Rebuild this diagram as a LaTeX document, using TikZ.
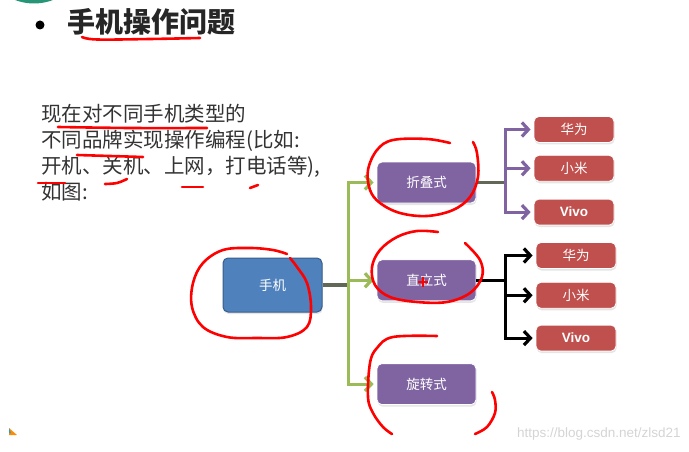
\documentclass[tikz,border=0pt]{standalone}
\usepackage{fontspec}
\setmainfont{Noto Sans CJK SC}
\newfontfamily\wmfont{Liberation Sans}
\usetikzlibrary{positioning,arrows.meta,shadows}
\definecolor{azulCaja}{RGB}{79,129,189}
\definecolor{azulBorde}{RGB}{56,93,138}
\definecolor{moradoCaja}{RGB}{128,100,162}
\definecolor{rojoCaja}{RGB}{192,80,77}
\definecolor{verdeLinea}{RGB}{155,187,89}
\definecolor{tallo}{RGB}{98,104,88}
\definecolor{verdeMar}{RGB}{38,150,118}
\definecolor{marcaAgua}{RGB}{212,212,212}

\begin{document}
\begin{tikzpicture}[x=1pt, y=-1pt, node distance=12pt, thick,
    caja/.style={rounded corners=5pt, inner sep=0pt, text=white, font=\fontsize{13.5}{14}\selectfont,
        drop shadow={shadow xshift=0.6pt, shadow yshift=-2pt, fill=black!20}},
    cajaAzul/.style={caja, fill=azulCaja, draw=azulBorde, line width=1pt, minimum width=99pt, minimum height=54pt},
    cajaMorada/.style={caja, fill=moradoCaja, draw=white, line width=0.8pt, minimum width=99pt, minimum height=41pt},
    cajaRoja/.style={caja, fill=rojoCaja, draw=white, line width=0.8pt, minimum width=80pt, minimum height=26pt},
    flecha/.style={line width=3.2pt, -{Straight Barb[length=6.5pt, width=14pt]}},
    garabato/.style={red, line width=2.6pt, line cap=round, line join=round}]
    \useasboundingbox (0,0) rectangle (689,452);

    % Encabezado
    \begin{scope}
        \clip (0,0) rectangle (689,452);
        \fill[verdeMar] (34,-49.5) circle (53);
    \end{scope}
    \fill (40,25) circle (4.5);
    \node[anchor=west, inner sep=0pt, text=black!85, font=\fontsize{28}{30}\selectfont\bfseries] (titulo) at (67,22) {手机操作问题};

    % Texto
    \node[anchor=north west, inner sep=0pt, align=left, text=black!80, font=\fontsize{20.5}{26}\selectfont] (texto) at (41,104)
        {现在对不同手机类型的\\不同品牌实现操作编程(比如:\\开机、关机、上网，打电话等),\\如图:};

    % Cajas
    \node[cajaAzul] (sj) at (272.5,285) {手机};
    \node[cajaMorada] (zd) at (426.5,182.5) {折叠式};
    \node[cajaMorada, below=56pt of zd] (zl) {直立式};
    \node[cajaMorada, below=62pt of zl] (xz) {旋转式};
    \node[cajaRoja] (hw1) at (574,129.5) {华为};
    \node[cajaRoja, below=of hw1] (xm1) {小米};
    \node[cajaRoja, below=17pt of xm1] (vv1) {\wmfont\bfseries Vivo};
    \node[cajaRoja] (hw2) at (576,255.5) {华为};
    \node[cajaRoja, below=13pt of hw2] (xm2) {小米};
    \node[cajaRoja, below=16pt of xm2] (vv2) {\wmfont\bfseries Vivo};

    % Conectores
    \coordinate (tg) at ([xshift=26pt]sj.east);
    \coordinate (tm) at ([xshift=29pt]zd.east);
    \coordinate (tn) at ([xshift=29pt]zl.east);
    \draw[tallo, line width=3.2pt] (sj.east) -- (tg);
    \draw[tallo, line width=3.2pt] (zd.east) -- (tm);
    \draw[black, line width=3.2pt] (zl.east) -- (tn);
    \foreach \n in {zd, zl, xz} {
        \draw[flecha, verdeLinea] (tg) |- ([xshift=-3pt]\n.west);
    }
    \foreach \n in {hw1, xm1, vv1} {
        \draw[flecha, moradoCaja] (tm) |- ([xshift=-3pt]\n.west);
    }
    \foreach \n in {hw2, xm2, vv2} {
        \draw[flecha, black] (tn) |- ([xshift=-3pt]\n.west);
    }

    % Marcas rojas
    \draw[garabato] plot[smooth, tension=0.6] coordinates {(82,37) (97,39.5) (150,39) (200,38)};
    \draw[garabato] plot[smooth, tension=0.6] coordinates {(58,127) (130,128) (207,128)};
    \draw[garabato] plot[smooth, tension=0.6] coordinates {(77,155) (110,156) (143,157)};
    \draw[garabato] (38,183) -- (65,183);
    \draw[garabato] plot[smooth, tension=0.6] coordinates {(105,184) (117,183) (127,179)};
    \draw[garabato] (182,187) -- (203,187);
    \draw[garabato] (250,188) -- (258,185);
    \draw[garabato] plot[smooth, tension=0.6] coordinates {(287,254) (273,250) (250,248) (223,250) (203,263) (193,283)
        (192,307) (203,327) (227,337) (257,338) (287,337) (307,327) (311,307) (307,283) (297,267) (290,258)};
    \draw[garabato] plot[smooth, tension=0.6] coordinates {(450,143) (427,139) (393,140) (377,150) (368,170) (370,190)
        (380,203) (400,213) (427,216) (453,210) (470,197) (478,177) (477,153) (473,142)};
    \draw[garabato] plot[smooth, tension=0.6] coordinates {(438,232) (417,231) (397,237) (380,250) (372,267) (375,285)
        (390,297) (417,302) (447,302) (470,293) (482,277) (480,260) (465,243)};
    \draw[garabato] plot[smooth, tension=0.6] coordinates {(437,336) (393,337) (377,348) (370,363) (368,397) (373,413)
        (383,427) (392,434)};
    \draw[garabato] plot[smooth, tension=0.6] coordinates {(492,392) (495,400) (495,413) (487,427) (475,434)};
    \draw[red, line width=1.8pt] (418,282) -- (428,282) (423,277) -- (423,287);

    % Marca de agua
    \node[anchor=east, inner sep=0pt, text=marcaAgua, font=\wmfont\fontsize{13.5}{14}\selectfont] (web) at (681,434)
        {https://blog.csdn.net/zlsd21};
    \fill[orange!90!yellow] (9,428) -- (9,435) -- (17,435) -- cycle;
    \fill[cyan!70!teal] (9,428) -- (9,433) -- (11,433) -- cycle;
\end{tikzpicture}
\end{document}
